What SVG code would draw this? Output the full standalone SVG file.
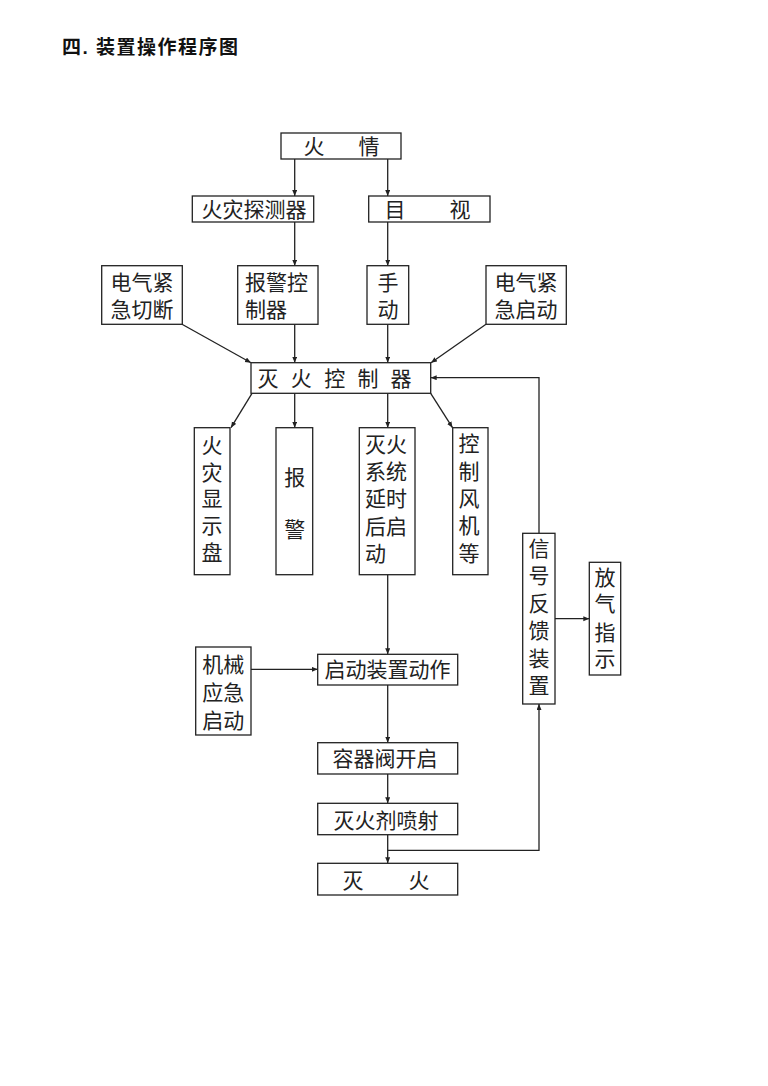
<svg xmlns="http://www.w3.org/2000/svg" width="768" height="1086" viewBox="0 0 768 1086">
<style>
.box{fill:#fff;stroke:#222;stroke-width:1.3}
.t{font-family:"Liberation Sans","Noto Sans CJK SC",sans-serif;font-size:21px;fill:#222}
.m{text-anchor:middle}
.c{fill:none;stroke:#222;stroke-width:1.3}
.title{font-family:"Liberation Sans","Noto Sans CJK SC",sans-serif;font-size:19px;font-weight:bold;fill:#111;letter-spacing:1.5px}
</style>
<defs>
<marker id="ah" markerUnits="userSpaceOnUse" markerWidth="7" markerHeight="6" refX="6" refY="2.5" orient="auto">
<path d="M0,0 L6,2.5 L0,5 z" fill="#222"/>
</marker>
</defs>
<rect width="768" height="1086" fill="#fff"/>
<text class="title" x="62" y="54">四. 装置操作程序图</text>

<g id="connectors">
<line class="c" x1="294.7" y1="159" x2="294.7" y2="196" marker-end="url(#ah)"/>
<line class="c" x1="387.7" y1="159" x2="387.7" y2="196" marker-end="url(#ah)"/>
<line class="c" x1="294.7" y1="222" x2="294.7" y2="265.7" marker-end="url(#ah)"/>
<line class="c" x1="387.7" y1="222" x2="387.7" y2="265.7" marker-end="url(#ah)"/>
<line class="c" x1="182" y1="324.3" x2="251" y2="362.7" marker-end="url(#ah)"/>
<line class="c" x1="294.7" y1="324.3" x2="294.7" y2="362.7" marker-end="url(#ah)"/>
<line class="c" x1="387.7" y1="324.3" x2="387.7" y2="362.7" marker-end="url(#ah)"/>
<line class="c" x1="486" y1="324.3" x2="431" y2="362.7" marker-end="url(#ah)"/>
<line class="c" x1="252" y1="393.3" x2="231" y2="427.7" marker-end="url(#ah)"/>
<line class="c" x1="294.7" y1="393.3" x2="294.7" y2="427.7" marker-end="url(#ah)"/>
<line class="c" x1="387.7" y1="393.3" x2="387.7" y2="427.7" marker-end="url(#ah)"/>
<line class="c" x1="430.7" y1="393.3" x2="452.5" y2="427.7" marker-end="url(#ah)"/>
<line class="c" x1="387.7" y1="574.7" x2="387.7" y2="654.3" marker-end="url(#ah)"/>
<line class="c" x1="251" y1="669.3" x2="317.7" y2="669.3" marker-end="url(#ah)"/>
<line class="c" x1="387.7" y1="685" x2="387.7" y2="742.7" marker-end="url(#ah)"/>
<line class="c" x1="387.7" y1="774" x2="387.7" y2="803.3" marker-end="url(#ah)"/>
<line class="c" x1="387.7" y1="834.7" x2="387.7" y2="863.3" marker-end="url(#ah)"/>
<polyline class="c" points="387.7,850.3 539,850.3 539,704" marker-end="url(#ah)"/>
<polyline class="c" points="539,533.3 539,377.7 430.7,377.7" marker-end="url(#ah)"/>
<line class="c" x1="555" y1="618.7" x2="589.3" y2="618.7" marker-end="url(#ah)"/>
</g>

<g id="n-huoqing">
<rect class="box" x="281" y="133" width="120" height="26"/>
<text class="t m" x="314 341.5 369" y="154">火 情</text>
</g>
<g id="n-tanceqi">
<rect class="box" x="192.3" y="196" width="121.4" height="26"/>
<text class="t m" x="254" y="217">火灾探测器</text>
</g>
<g id="n-mushi">
<rect class="box" x="368.7" y="196" width="121.3" height="26"/>
<text class="t m" x="395 427.5 460" y="217">目 视</text>
</g>
<g id="n-qieduan">
<rect class="box" x="101.7" y="265.7" width="80.6" height="58.6"/>
<text class="t m" x="142" y="290">电气紧</text>
<text class="t m" x="142" y="316.5">急切断</text>
</g>
<g id="n-baojingkzq">
<rect class="box" x="237.7" y="265.7" width="80.3" height="58.6"/>
<text class="t" x="245" y="290">报警控</text>
<text class="t" x="245" y="316.5">制器</text>
</g>
<g id="n-shoudong">
<rect class="box" x="367" y="265.7" width="41.7" height="58.6"/>
<text class="t m" x="388" y="290">手</text>
<text class="t m" x="388" y="316.5">动</text>
</g>
<g id="n-qidong">
<rect class="box" x="486" y="265.7" width="80.3" height="58.6"/>
<text class="t m" x="526" y="290">电气紧</text>
<text class="t m" x="526" y="316.5">急启动</text>
</g>
<g id="n-kongzhiqi">
<rect class="box" x="251" y="362.7" width="179.7" height="30.6"/>
<text class="t m" x="268 284.6 301.3 318 334.7 351.4 368 384.7 401" y="386">灭 火 控 制 器</text>
</g>
<g id="n-xianshipan">
<rect class="box" x="194.3" y="427.7" width="35.7" height="147"/>
<text class="t m" x="212" y="453">火</text>
<text class="t m" x="212" y="480">灾</text>
<text class="t m" x="212" y="506">显</text>
<text class="t m" x="212" y="533">示</text>
<text class="t m" x="212" y="560">盘</text>
</g>
<g id="n-baojing">
<rect class="box" x="276" y="427.7" width="36.7" height="147"/>
<text class="t m" x="294.7" y="485">报</text>
<text class="t m" x="294.7" y="537">警</text>
</g>
<g id="n-yanshi">
<rect class="box" x="359.3" y="427.7" width="55.7" height="147"/>
<text class="t" x="365" y="452">灭火</text>
<text class="t" x="365" y="479">系统</text>
<text class="t" x="365" y="506">延时</text>
<text class="t" x="365" y="534">后启</text>
<text class="t" x="365" y="561">动</text>
</g>
<g id="n-fengji">
<rect class="box" x="452.7" y="427.7" width="35.3" height="147"/>
<text class="t m" x="469" y="451">控</text>
<text class="t m" x="469" y="479">制</text>
<text class="t m" x="469" y="506">风</text>
<text class="t m" x="469" y="533">机</text>
<text class="t m" x="469" y="561">等</text>
</g>
<g id="n-fankui">
<rect class="box" x="522.7" y="533.3" width="32.3" height="170.7"/>
<text class="t m" x="539" y="556">信</text>
<text class="t m" x="539" y="583">号</text>
<text class="t m" x="539" y="611">反</text>
<text class="t m" x="539" y="638">馈</text>
<text class="t m" x="539" y="666">装</text>
<text class="t m" x="539" y="693">置</text>
</g>
<g id="n-fangqi">
<rect class="box" x="589.3" y="562.3" width="31.4" height="112.7"/>
<text class="t m" x="605" y="585">放</text>
<text class="t m" x="605" y="611">气</text>
<text class="t m" x="605" y="640">指</text>
<text class="t m" x="605" y="666">示</text>
</g>
<g id="n-jixie">
<rect class="box" x="195.7" y="647" width="55.3" height="88"/>
<text class="t m" x="223.3" y="672">机械</text>
<text class="t m" x="223.3" y="700">应急</text>
<text class="t m" x="223.3" y="728">启动</text>
</g>
<g id="n-dongzuo">
<rect class="box" x="317.7" y="654.3" width="140" height="30.7"/>
<text class="t m" x="387.5" y="677">启动装置动作</text>
</g>
<g id="n-rongqifa">
<rect class="box" x="317.7" y="742.7" width="140" height="31.3"/>
<text class="t m" x="385" y="766">容器阀开启</text>
</g>
<g id="n-penshe">
<rect class="box" x="317.7" y="803.3" width="140" height="31.4"/>
<text class="t m" x="386" y="828">灭火剂喷射</text>
</g>
<g id="n-miehuo">
<rect class="box" x="317.7" y="863.3" width="140" height="31.7"/>
<text class="t m" x="353 386 419" y="888">灭 火</text>
</g>
</svg>
